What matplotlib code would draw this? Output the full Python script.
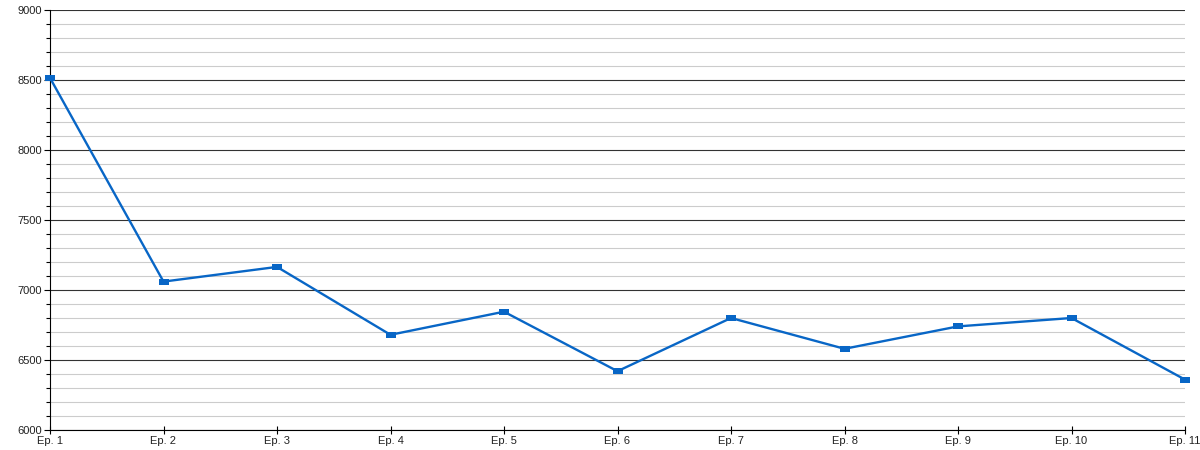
import matplotlib
matplotlib.use("Agg")
import matplotlib.pyplot as plt
from matplotlib.ticker import MultipleLocator

plt.rcParams['font.family'] = ['Liberation Sans', 'DejaVu Sans']

# data
episodes = ["Ep. 1", "Ep. 2", "Ep. 3", "Ep. 4", "Ep. 5", "Ep. 6",
            "Ep. 7", "Ep. 8", "Ep. 9", "Ep. 10", "Ep. 11"]
values = [8515, 7060, 7165, 6680, 6845, 6420, 6800, 6580, 6740, 6800, 6360]

fig = plt.figure(figsize=(12, 4.5), dpi=100)
ax = fig.add_axes([50/1200, 20/450, 1135/1200, 420/450])

xs = list(range(len(episodes)))

# flat rectangle marker like the original
rect = [(-1, -0.55), (1, -0.55), (1, 0.55), (-1, 0.55), (-1, -0.55)]
ax.plot(xs, values, color='#0866c6', lw=1.7, marker=rect, markersize=7.4,
        markeredgewidth=0, markerfacecolor='#0866c6', clip_on=False, zorder=5)

ax.set_xlim(0, len(episodes) - 1)
ax.set_ylim(6000, 9000)
ax.set_xticks(xs)
ax.set_xticklabels(episodes)

ax.yaxis.set_major_locator(MultipleLocator(500))
ax.yaxis.set_minor_locator(MultipleLocator(100))
ax.grid(which='major', axis='y', color='#333333', lw=0.8)
ax.grid(which='minor', axis='y', color='#cccccc', lw=0.8)
ax.set_axisbelow(True)

for s in ['top', 'right']:
    ax.spines[s].set_visible(False)
ax.spines['left'].set_color('black')
ax.spines['bottom'].set_color('black')

ax.tick_params(axis='y', which='major', length=4, width=0.8, labelsize=8,
               labelcolor='#222222', pad=2)
ax.tick_params(axis='y', which='minor', length=3, width=0.8)
ax.tick_params(axis='x', which='major', direction='inout', length=6, width=0.8,
               labelsize=8, labelcolor='#222222', pad=1)

fig.savefig('out.png', dpi=100)
